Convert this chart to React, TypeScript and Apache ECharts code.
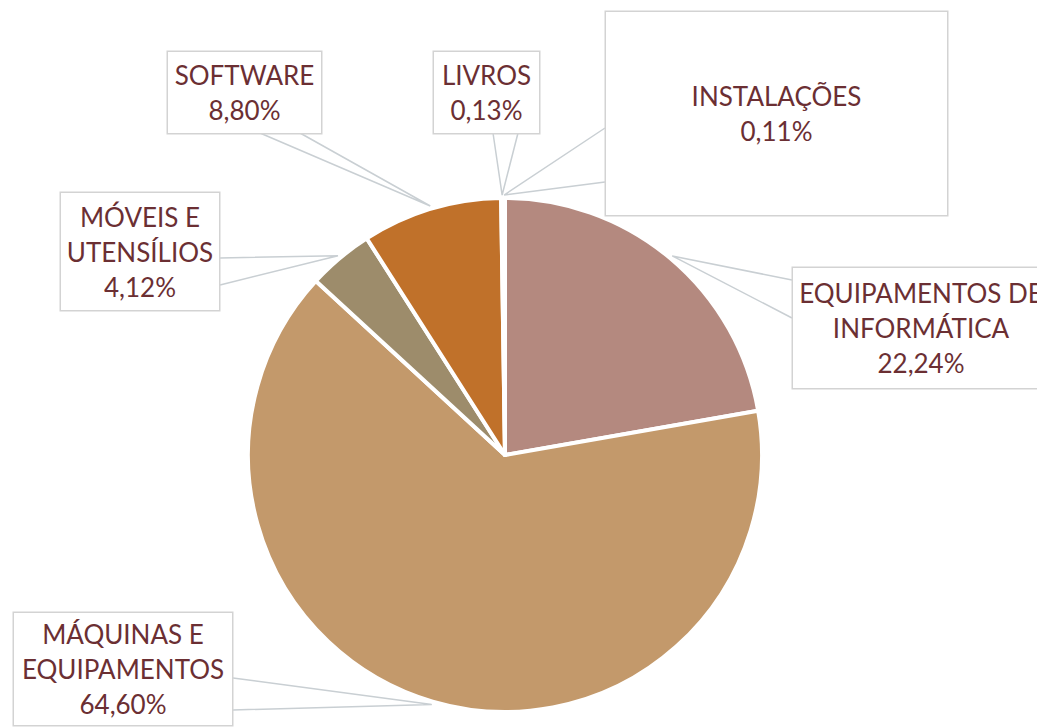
import React, { useEffect, useRef } from "react";
import * as echarts from "echarts";

const categories = [
  "EQUIPAMENTOS DE\nINFORMÁTICA",
  "MÁQUINAS E\nEQUIPAMENTOS",
  "MÓVEIS E\nUTENSÍLIOS",
  "SOFTWARE",
  "LIVROS",
  "INSTALAÇÕES",
];
const shares = [22.24, 64.6, 4.12, 8.8, 0.13, 0.11];
const sliceColors = ["#B4897F", "#C3996B", "#9D8C6B", "#C0712A", "#B4897F", "#C3996B"];

// callout boxes: centre x, centre y, width, height (layout only)
const boxes = [
  { cx: 921, cy: 328, w: 258, h: 120 },
  { cx: 123, cy: 669, w: 220, h: 112 },
  { cx: 140, cy: 251.5, w: 160, h: 117 },
  { cx: 244.5, cy: 92.5, w: 155, h: 81 },
  { cx: 486.5, cy: 92.5, w: 107, h: 81 },
  { cx: 776.5, cy: 113.5, w: 343, h: 203 },
];
// wedge base points on the box edges (layout only)
const wedgeA = [
  [792, 280],
  [233, 678],
  [220, 258],
  [260, 133],
  [493, 133],
  [605, 128],
];
const wedgeB = [
  [792, 318],
  [233, 710],
  [220, 285],
  [300, 133],
  [518, 133],
  [605, 182],
];

const LH = 35;
const TEXT = "#6b2f33";
const LINE = "#c9cfd3";

export default function App() {
  const ref = useRef<HTMLDivElement>(null);
  useEffect(() => {
    if (!ref.current) return;
    const chart = echarts.init(ref.current, null, { renderer: "svg" });
    const fmt = (v: number) => v.toFixed(2).replace(".", ",") + "%";

    const mainData = categories.map((name, i) => {
      const lines = name.split("\n").length + 1;
      const b = boxes[i];
      const pad = (b.h - lines * LH) / 2;
      return {
        name,
        value: shares[i],
        itemStyle: { color: sliceColors[i] },
        label: {
          width: b.w - 2,
          padding: [pad, 0, pad, 0],
        },
      };
    });

    chart.setOption({
      animation: false,
      backgroundColor: "#ffffff",
      series: [
        {
          type: "pie",
          center: [505, 455],
          radius: 257,
          startAngle: 90,
          clockwise: true,
          silent: true,
          avoidLabelOverlap: false,
          z: 2,
          itemStyle: { borderColor: "#ffffff", borderWidth: 4 },
          label: {
            show: true,
            position: "outside",
            formatter: (p: any) => p.name + "\n" + fmt(p.value),
            fontFamily: "Lato",
            fontSize: 26,
            lineHeight: LH,
            color: TEXT,
            align: "center",
            overflow: "none",
            backgroundColor: "#ffffff",
            borderColor: "#d3d3d3",
            borderWidth: 1.5,
          },
          labelLine: { show: false },
          labelLayout: (p: any) => ({
            x: boxes[p.dataIndex].cx,
            y: boxes[p.dataIndex].cy,
            align: "center",
            verticalAlign: "middle",
          }),
          emphasis: { disabled: true },
          data: mainData,
        },
      ],
    });

    // callout wedges: tip at each slice's mid-angle, taken from the pie's own layout
    const data = (chart as any).getModel().getSeriesByIndex(0).getData();
    const graphics = categories.map((_, i) => {
      const lay = data.getItemLayout(i);
      const mid = (lay.startAngle + lay.endAngle) / 2;
      const rr = lay.r + 3;
      const tip = [lay.cx + Math.cos(mid) * rr, lay.cy + Math.sin(mid) * rr];
      return {
        type: "polyline",
        z: 1,
        silent: true,
        shape: { points: [wedgeA[i], tip, wedgeB[i]] },
        style: { stroke: LINE, lineWidth: 1.5, fill: null },
      };
    });
    chart.setOption({ graphic: graphics });

    return () => chart.dispose();
  }, []);
  return (
    <div
      ref={ref}
      style={{ position: "fixed", left: 0, top: 0, width: 1037, height: 727 }}
    />
  );
}
